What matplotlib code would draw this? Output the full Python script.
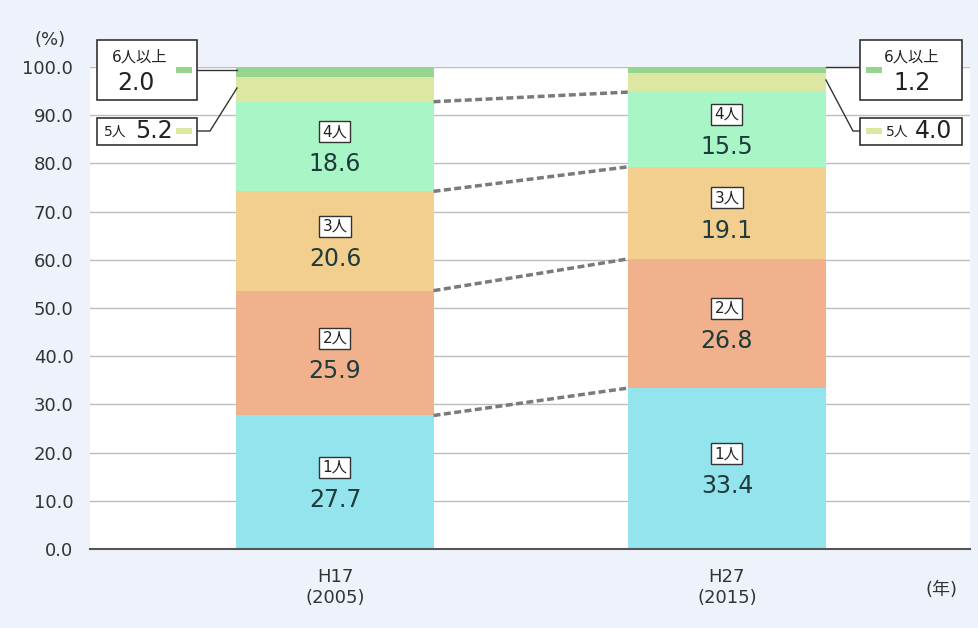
import matplotlib
matplotlib.use("Agg")
import matplotlib.pyplot as plt
from matplotlib.patches import Rectangle
import numpy as np

plt.rcParams['font.family'] = ['DejaVu Sans', 'Noto Sans CJK JP']

years = ["H17\n(2005)", "H27\n(2015)"]
categories = ["1人", "2人", "3人", "4人", "5人", "6人以上"]
h17 = [27.7, 25.9, 20.6, 18.6, 5.2, 2.0]
h27 = [33.4, 26.8, 19.1, 15.5, 4.0, 1.2]
colors = ["#94E4EE", "#F0B18C", "#F2CF8E", "#A8F5C6", "#DEE7A2", "#96D590"]
yticks = [0, 10, 20, 30, 40, 50, 60, 70, 80, 90, 100]

fig = plt.figure(figsize=(9.79, 6.28), dpi=100)
fig.patch.set_facecolor("#EEF3FB")
ax = fig.add_axes([90/979, 1-549/628, 880/979, (549-67)/628])
ax.set_facecolor("white")

data = np.array([h17, h27])
x = np.arange(len(years))
w = 0.503
bottoms = np.zeros(len(years))
tops = []
for i, cat in enumerate(categories):
    vals = data[:, i]
    ax.bar(x, vals, w, bottom=bottoms, color=colors[i], zorder=2)
    if i < 4:
        for j in range(len(years)):
            cy = bottoms[j] + vals[j] / 2
            ax.text(x[j], cy + 3.1, cat, ha="center", va="center", fontsize=11,
                    color="#222222", zorder=4,
                    bbox=dict(boxstyle="square,pad=0.2", fc="white", ec="#333333", lw=1))
            ax.text(x[j], cy - 3.7, f"{vals[j]:.1f}", ha="center", va="center",
                    fontsize=17, color="#1f3b3b", zorder=4)
    bottoms = bottoms + vals
    tops.append(bottoms.copy())

# dashed connectors
for i in range(4):
    ax.plot([x[0] + w/2, x[1] - w/2], [tops[i][0], tops[i][1]], color="#7a7a7a",
            lw=2.5, ls=(0, (2, 1)), zorder=3)

ax.set_xlim(-0.625, 1.62)
ax.set_ylim(0, 100)
ax.set_yticks(yticks)
ax.set_yticklabels([f"{v:.1f}" for v in yticks], fontsize=13, color="#333333")
ax.set_xticks(x)
ax.set_xticklabels(years, fontsize=13, color="#333333", linespacing=1.15)
ax.tick_params(axis="x", length=0, pad=14)
ax.tick_params(axis="y", length=0, pad=12)
ax.yaxis.grid(True, color="#bdbdbd", lw=1, zorder=0)
ax.set_axisbelow(True)
for s in ["left", "right", "top"]:
    ax.spines[s].set_visible(False)
ax.spines["bottom"].set_color("#555555")
ax.spines["bottom"].set_linewidth(1.5)

fig.text(50/979, 1-40/628, "(%)", fontsize=13, color="#333333", ha="center", va="center")
fig.text(942/979, 1-590/628, "(年)", fontsize=13, color="#333333", ha="center", va="center")

# callouts
def px2d(px, py):
    return (px - 335) / 392, (549 - py) / 4.82

def callbox(x0, y0, x1, y1):
    (dx0, dy0), (dx1, dy1) = px2d(x0, y1), px2d(x1, y0)
    r = Rectangle((dx0, dy0), dx1 - dx0, dy1 - dy0, fc="white", ec="#333333",
                  lw=1.2, clip_on=False, zorder=5)
    ax.add_patch(r)

def swatch(px, py, color):
    (a, b), (c, d) = px2d(px, py + 3), px2d(px + 16, py - 3)
    ax.add_patch(Rectangle((a, b), c - a, d - b, fc=color, ec="none",
                           clip_on=False, zorder=6))

def line(pts):
    xs, ys = zip(*[px2d(*p) for p in pts])
    ax.plot(xs, ys, color="#333333", lw=1, clip_on=False, zorder=4)

def t(px, py, s, fs, ha="center"):
    dx, dy = px2d(px, py)
    ax.text(dx, dy, s, fontsize=fs, ha=ha, va="center", color="#222222",
            zorder=7, clip_on=False)

# left: 6人以上
callbox(97, 40, 197, 100)
t(140, 57, "6人以上", 11)
t(136, 83, f"{h17[5]:.1f}", 17)
swatch(176, 70, colors[5])
line([(197, 70), (237, 70)])
# left: 5人
callbox(97, 118, 197, 145)
t(104, 132, "5人", 10, ha="left")
t(154, 131, f"{h17[4]:.1f}", 17)
swatch(176, 131, colors[4])
line([(197, 131), (210, 131), (237, 88)])

# right: 6人以上
callbox(860, 40, 962, 100)
t(912, 57, "6人以上", 11)
t(912, 83, f"{h27[5]:.1f}", 17)
swatch(866, 70, colors[5])
line([(826, 67), (860, 67)])
# right: 5人
callbox(860, 118, 962, 145)
swatch(866, 131, colors[4])
t(886, 132, "5人", 10, ha="left")
t(934, 131, f"{h27[4]:.1f}", 17)
line([(826, 80), (853, 131), (860, 131)])

fig.savefig("out.png", dpi=100, facecolor=fig.get_facecolor())
